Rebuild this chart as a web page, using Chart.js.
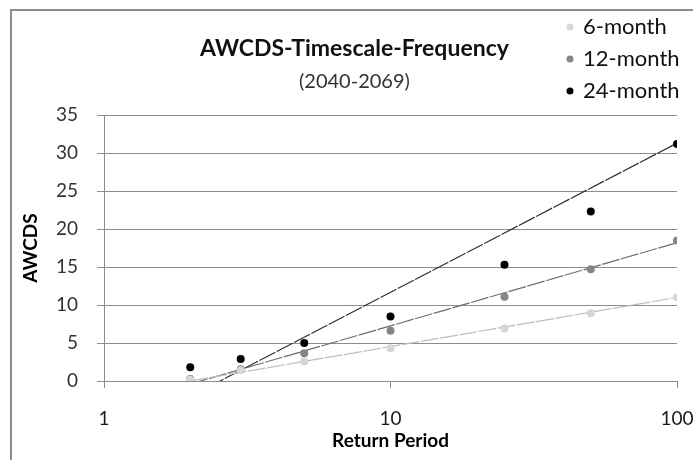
<!DOCTYPE html>
<html>
<head>
<meta charset="utf-8">
<script src="https://cdn.jsdelivr.net/npm/chart.js@4/dist/chart.umd.min.js"></script>
<style>
  html, body { margin: 0; padding: 0; background: #ffffff; }
  #wrap { position: relative; width: 693px; height: 460px; overflow: hidden; background: #fff; }
  #frame { position: absolute; left: 10px; top: 9px; width: 720px; height: 480px; border: 2px solid #8c8c8c; pointer-events: none; }
  canvas { position: absolute; left: 0; top: 0; }
</style>
</head>
<body>
<div id="wrap">
  <canvas id="c" width="693" height="460"></canvas>
  <div id="frame"></div>
</div>
<script>
// ---- data ----
const titleText = 'AWCDS-Timescale-Frequency';
const subtitleText = '(2040-2069)';
const xAxisTitle = 'Return Period';
const yAxisTitle = 'AWCDS';
const seriesNames = ['6-month', '12-month', '24-month'];
const returnPeriods = [2, 3, 5, 10, 25, 50, 100];
const month6 = [0.15, 1.4, 2.6, 4.3, 6.9, 8.9, 11.0];
const month12 = [0.25, 1.55, 3.65, 6.6, 11.1, 14.7, 18.5];
const month24 = [1.8, 2.9, 5.0, 8.5, 15.3, 22.3, 31.2];
// trend lines (logarithmic fits) read at their two ends
const trendPeriods = [2, 100];
const trend6 = [0.0, 11.0];
const trend12 = [-0.4, 18.2];
const trend24 = [-2.05, 31.3];
const xTickValues = [1, 10, 100];
const yTickValues = [0, 5, 10, 15, 20, 25, 30, 35];

const pointColors = ['#d6d6d6', '#858585', '#000000'];
const lineColors = ['#bdbdbd', '#6e6e6e', '#2e2e2e'];

const toPts = (xs, ys) => xs.map((x, i) => ({ x: x, y: ys[i] }));
const pointSeries = [month6, month12, month24];
const trendSeries = [trend6, trend12, trend24];

const datasets = [];
trendSeries.forEach((t, i) => {
  datasets.push({
    label: seriesNames[i] + ' trend',
    isTrend: true,
    data: toPts(trendPeriods, t),
    showLine: true,
    borderColor: lineColors[i],
    borderWidth: 1.2,
    borderDash: [18, 1.5],
    pointRadius: 0,
    pointHoverRadius: 0,
    fill: false,
    tension: 0,
    order: 1
  });
});
pointSeries.forEach((s, i) => {
  datasets.push({
    label: seriesNames[i],
    data: toPts(returnPeriods, s),
    showLine: false,
    backgroundColor: pointColors[i],
    borderColor: pointColors[i],
    pointRadius: 4,
    pointBorderWidth: 0,
    order: 0
  });
});

const textFont = "Lato, 'Open Sans', sans-serif";

const annotationPlugin = {
  id: 'titlesAndLegend',
  afterDraw(chart) {
    const ctx = chart.ctx;
    ctx.save();
    ctx.textBaseline = 'middle';
    ctx.font = "bold 23px " + textFont;
    const tw = ctx.measureText(titleText).width;
    const cx = 200 + tw / 2;
    ctx.fillStyle = '#111111';
    ctx.textAlign = 'center';
    ctx.fillText(titleText, cx, 49);
    ctx.font = "20px " + textFont;
    ctx.fillStyle = '#333333';
    ctx.fillText(subtitleText, cx, 82);
    // legend from the point datasets
    const items = chart.data.datasets.filter(d => !d.isTrend);
    ctx.textAlign = 'left';
    items.forEach((d, i) => {
      const y = 27 + i * 32;
      ctx.beginPath();
      ctx.fillStyle = d.backgroundColor;
      ctx.arc(570, y, 3.5, 0, Math.PI * 2);
      ctx.fill();
      ctx.fillStyle = '#111111';
      ctx.font = "22px " + textFont;
      ctx.fillText(d.label, 583, y);
    });
    ctx.restore();
  }
};

new Chart(document.getElementById('c'), {
  type: 'scatter',
  data: { datasets: datasets },
  options: {
    responsive: false,
    animation: false,
    events: [],
    layout: { padding: { top: 115, right: 0, bottom: 0, left: 0 } },
    plugins: {
      legend: { display: false },
      title: { display: false },
      tooltip: { enabled: false }
    },
    scales: {
      x: {
        type: 'logarithmic',
        min: 1,
        max: 100,
        afterBuildTicks: (scale) => { scale.ticks = xTickValues.map(v => ({ value: v, major: false })); },
        afterFit: (scale) => { scale.height = 79; scale.paddingRight = 16; scale.paddingLeft = 0; },
        ticks: {
          callback: (v) => String(v),
          color: '#1a1a1a',
          font: { family: textFont, size: 19 },
          padding: 19,
          maxRotation: 0,
          autoSkip: false
        },
        grid: { drawOnChartArea: false, drawTicks: true, tickLength: 7, color: '#8c8c8c', tickColor: '#8c8c8c' },
        border: { display: true, color: '#8c8c8c', width: 1 },
        title: {
          display: true,
          text: xAxisTitle,
          color: '#000000',
          font: { family: textFont, size: 19, weight: 'bold' },
          padding: { top: 0, bottom: 8 }
        }
      },
      y: {
        type: 'linear',
        min: 0,
        max: 35,
        afterBuildTicks: (scale) => { scale.ticks = yTickValues.map(v => ({ value: v })); },
        afterFit: (scale) => { scale.width = 104; },
        ticks: {
          color: '#333333',
          font: { family: textFont, size: 19 },
          padding: 19
        },
        grid: { color: '#8c8c8c', lineWidth: 1, drawTicks: true, tickLength: 7, tickColor: '#8c8c8c' },
        border: { display: true, color: '#8c8c8c', width: 1 },
        title: {
          display: true,
          text: yAxisTitle,
          color: '#000000',
          font: { family: textFont, size: 19, weight: 'bold' },
          padding: { top: 19, bottom: 0 }
        }
      }
    }
  },
  plugins: [annotationPlugin]
});
</script>
</body>
</html>
